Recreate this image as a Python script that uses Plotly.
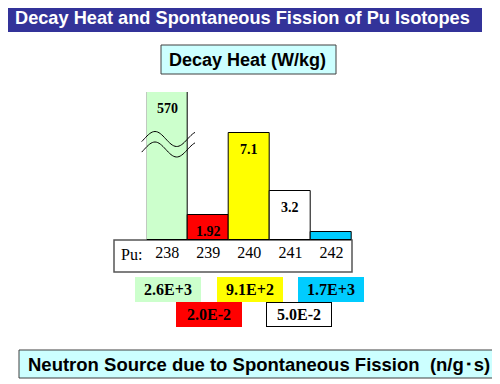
import math
import plotly.graph_objects as go

# ---- data ----
isotopes = ["238", "239", "240", "241", "242"]
decay_heat_labels = ["570", "1.92", "7.1", "3.2", ""]          # W/kg labels shown on bars
bar_display = [9.82, 1.66, 7.1, 3.25, 0.53]                   # broken-axis display heights
bar_colors = ["#ccffcc", "#ff0000", "#ffff00", "#ffffff", "#00ccff"]
neutron_labels = ["2.6E+3", "2.0E-2", "9.1E+2", "5.0E-2", "1.7E+3"]  # n/g·s
neutron_colors = ["#ccffcc", "#ff0000", "#ffff00", "#ffffff", "#00ccff"]

# page is offset by the default 8px body margin
OFF = 8
W, H = 500 - OFF, 384 - OFF
SANS = "Liberation Sans, Arial, sans-serif"
SERIF = "Liberation Serif, Times New Roman, serif"


def px(x):
    return (x - OFF) / W


def py(y):
    return 1 - (y - OFF) / H


fig = go.Figure()
fig.add_trace(go.Bar(
    x=list(range(len(isotopes))), y=bar_display, width=1,
    marker=dict(color=bar_colors, line=dict(color="#000000", width=1)),
    hoverinfo="skip", showlegend=False,
))

shapes = []
annotations = []

# title bar
shapes.append(dict(type="rect", xref="paper", yref="paper", x0=px(3), x1=px(482), y0=py(32), y1=py(4),
                   fillcolor="#333399", line=dict(width=0), layer="below"))
annotations.append(dict(xref="paper", yref="paper", x=px(242), y=py(18), showarrow=False,
                        text="<b>Decay Heat and Spontaneous Fission of Pu Isotopes</b>",
                        font=dict(family=SANS, size=18.2, color="white"), xanchor="center", yanchor="middle"))

# decay heat box
shapes.append(dict(type="rect", xref="paper", yref="paper", x0=px(161), x1=px(336), y0=py(74), y1=py(45),
                   fillcolor="#ccffff", line=dict(color="#404040", width=1), layer="below"))
annotations.append(dict(xref="paper", yref="paper", x=px(247), y=py(60), showarrow=False,
                        text="<b>Decay Heat (W/kg)</b>",
                        font=dict(family=SANS, size=18, color="black"), xanchor="center", yanchor="middle"))

# isotope label box
shapes.append(dict(type="rect", xref="paper", yref="paper", x0=px(114), x1=px(352), y0=py(272), y1=py(240),
                   fillcolor="white", line=dict(color="#555555", width=1.5), layer="below"))
annotations.append(dict(xref="paper", yref="paper", x=px(132), y=py(254), showarrow=False,
                        text="Pu:", font=dict(family=SERIF, size=16, color="black"),
                        xanchor="center", yanchor="middle"))

# bar value labels
for i, lab in enumerate(decay_heat_labels):
    if lab:
        annotations.append(dict(xref="x", yref="y", x=i, y=bar_display[i], showarrow=False,
                                text="<b>%s</b>" % lab, yshift=-7,
                                font=dict(family=SERIF, size=14, color="black"),
                                xanchor="center", yanchor="top"))

# axis break wavy lines on first bar
for off in (0, 10.5):
    pts = []
    for k in range(41):
        x = 141.7 + (195 - 141.7) * k / 40
        y = 139 + off - 7.5 * math.sin(2 * math.pi * (x - 144.15) / 43.4)
        pts.append((px(x), py(y)))
    path = "M " + " L ".join("%.5f,%.5f" % p for p in pts)
    shapes.append(dict(type="path", xref="paper", yref="paper", path=path,
                       line=dict(color="black", width=1), layer="above"))

# neutron source value boxes
rows_y = [289.5, 314.5, 289.5, 314.5, 289.5]
xshift = [1, 1, 1, 9, 0]
for i, lab in enumerate(neutron_labels):
    bordered = neutron_colors[i] == "#ffffff"
    annotations.append(dict(xref="x", yref="paper", x=i, y=py(rows_y[i]), xshift=xshift[i], showarrow=False,
                            text="<b>%s</b>" % lab, width=64, height=23, borderpad=0,
                            bgcolor=neutron_colors[i],
                            bordercolor="black" if bordered else neutron_colors[i],
                            borderwidth=1,
                            font=dict(family=SERIF, size=16, color="black"),
                            xanchor="center", yanchor="middle", align="center"))

# neutron source box
shapes.append(dict(type="rect", xref="paper", yref="paper", x0=px(19), x1=px(496), y0=py(378), y1=py(350),
                   fillcolor="#ccffff", line=dict(color="#404040", width=1), layer="below"))
annotations.append(dict(xref="paper", yref="paper", x=px(259), y=py(364), showarrow=False,
                        text="<b>Neutron Source due to Spontaneous Fission  (n/g･s)</b>",
                        font=dict(family=SANS, size=18.5, color="black"), xanchor="center", yanchor="middle"))

fig.update_layout(
    width=W, height=H, autosize=False,
    margin=dict(l=0, r=0, t=0, b=0),
    paper_bgcolor="white", plot_bgcolor="rgba(0,0,0,0)",
    shapes=shapes, annotations=annotations,
    bargap=0,
    xaxis=dict(domain=[px(146.7), px(352)], range=[-0.5, 4.5], tickvals=list(range(5)), ticktext=isotopes,
               showgrid=False, zeroline=False, showline=False, ticks="",
               tickfont=dict(family=SERIF, size=16, color="black"), ticklabelstandoff=1, fixedrange=True),
    yaxis=dict(domain=[py(240), py(92)], range=[0, 9.82], visible=False, fixedrange=True),
)

fig.write_html("out.html")
